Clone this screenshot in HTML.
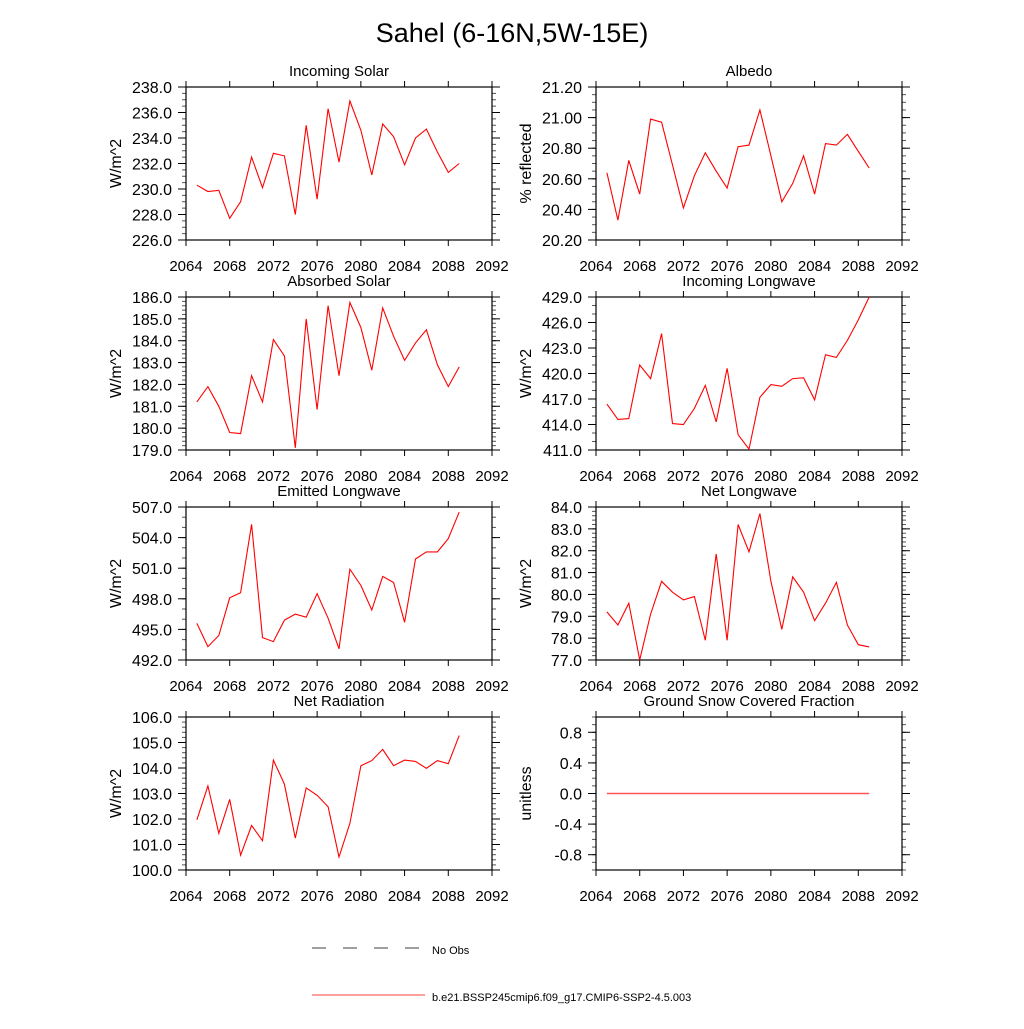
<!DOCTYPE html>
<html><head><meta charset="utf-8"><style>
body{margin:0;background:#fff;}
svg{font-family:"Liberation Sans",sans-serif;}
</style></head><body>
<svg id="c" width="1024" height="1024" xmlns="http://www.w3.org/2000/svg">
<text x="512" y="42" text-anchor="middle" font-size="27">Sahel (6-16N,5W-15E)</text>
<g>
<line x1="312" y1="948" x2="425" y2="948" stroke="#000" stroke-width="0.8" stroke-dasharray="14,17"/>
<text x="432" y="954" font-size="11">No Obs</text>
<line x1="312" y1="995" x2="425" y2="995" stroke="#f00" stroke-width="0.8"/>
<text x="432" y="1001" font-size="11">b.e21.BSSP245cmip6.f09_g17.CMIP6-SSP2-4.5.003</text>
</g>
</svg>
<script>
const years=[2065,2066,2067,2068,2069,2070,2071,2072,2073,2074,2075,2076,2077,2078,2079,2080,2081,2082,2083,2084,2085,2086,2087,2088,2089];
const xTicks=[2064,2068,2072,2076,2080,2084,2088,2092];
const incomingSolar=[230.3,229.8,229.9,227.7,229.0,232.5,230.1,232.8,232.6,228.0,235.0,229.2,236.3,232.1,236.9,234.6,231.1,235.1,234.1,231.9,234.0,234.7,232.9,231.3,232.0];
const albedo=[20.64,20.33,20.72,20.50,20.99,20.97,20.69,20.41,20.62,20.77,20.65,20.54,20.81,20.82,21.05,20.75,20.45,20.57,20.75,20.50,20.83,20.82,20.89,20.78,20.67];
const absorbedSolar=[181.2,181.9,181.0,179.8,179.75,182.4,181.2,184.05,183.3,179.1,185.0,180.85,185.6,182.4,185.75,184.6,182.65,185.5,184.2,183.1,183.9,184.5,182.9,181.9,182.8];
const incomingLongwave=[416.4,414.6,414.7,421.0,419.4,424.7,414.1,414.0,415.9,418.6,414.3,420.6,412.8,411.1,417.2,418.7,418.5,419.4,419.5,416.9,422.2,421.9,423.9,426.3,429.0];
const emittedLongwave=[495.6,493.3,494.4,498.1,498.6,505.3,494.2,493.8,495.9,496.5,496.2,498.5,496.1,493.1,500.9,499.3,496.9,500.2,499.6,495.7,501.9,502.6,502.6,503.9,506.5];
const netLongwave=[79.2,78.6,79.6,77.0,79.1,80.6,80.1,79.75,79.9,77.9,81.85,77.9,83.2,81.95,83.7,80.6,78.4,80.8,80.1,78.8,79.6,80.55,78.6,77.7,77.6];
const netRadiation=[101.97,103.3,101.44,102.77,100.58,101.75,101.15,104.31,103.37,101.25,103.22,102.93,102.48,100.51,101.83,104.09,104.29,104.73,104.09,104.31,104.26,103.99,104.29,104.17,105.27];
const snowFraction=[0,0,0,0,0,0,0,0,0,0,0,0,0,0,0,0,0,0,0,0,0,0,0,0,0];
const ticksIS=[226,228,230,232,234,236,238];
const ticksAL=[20.2,20.4,20.6,20.8,21.0,21.2];
const ticksAS=[179,180,181,182,183,184,185,186];
const ticksIL=[411,414,417,420,423,426,429];
const ticksEL=[492,495,498,501,504,507];
const ticksNL=[77,78,79,80,81,82,83,84];
const ticksNR=[100,101,102,103,104,105,106];
const ticksSN=[-0.8,-0.4,0,0.4,0.8];

const panels=[
 {name:'incoming-solar',title:'Incoming Solar',yl:'W/m^2',d:incomingSolar,t:ticksIS,min:226,max:238,dec:1,col:0,row:0,minor:4},
 {name:'albedo',title:'Albedo',yl:'% reflected',d:albedo,t:ticksAL,min:20.2,max:21.2,dec:2,col:1,row:0,minor:4},
 {name:'absorbed-solar',title:'Absorbed Solar',yl:'W/m^2',d:absorbedSolar,t:ticksAS,min:179,max:186,dec:1,col:0,row:1,minor:5},
 {name:'incoming-longwave',title:'Incoming Longwave',yl:'W/m^2',d:incomingLongwave,t:ticksIL,min:411,max:429,dec:1,col:1,row:1,minor:3},
 {name:'emitted-longwave',title:'Emitted Longwave',yl:'W/m^2',d:emittedLongwave,t:ticksEL,min:492,max:507,dec:1,col:0,row:2,minor:3},
 {name:'net-longwave',title:'Net Longwave',yl:'W/m^2',d:netLongwave,t:ticksNL,min:77,max:84,dec:1,col:1,row:2,minor:5},
 {name:'net-radiation',title:'Net Radiation',yl:'W/m^2',d:netRadiation,t:ticksNR,min:100,max:106,dec:1,col:0,row:3,minor:5},
 {name:'snow-fraction',title:'Ground Snow Covered Fraction',yl:'unitless',d:snowFraction,t:ticksSN,min:-1,max:1,dec:1,col:1,row:3,minor:4}
];
const svg=document.getElementById('c');
const NS='http://www.w3.org/2000/svg';
function mk(tag,attrs,parent){const e=document.createElementNS(NS,tag);for(const k in attrs)e.setAttribute(k,attrs[k]);parent.appendChild(e);return e;}
panels.forEach(p=>{
 const L=p.col?596:186, R=L+306, T=87+p.row*210, B=T+153;
 const g=mk('g',{},svg);
 
 
 const xs=v=>L+(v-2064)/(2092-2064)*(R-L);
 const ys=v=>B-(v-p.min)/(p.max-p.min)*(B-T);
 const ttl=mk('text',{x:(L+R)/2,y:T-11,'text-anchor':'middle','font-size':15},g);
 ttl.textContent=p.title;
 
 
 const yl=mk('text',{x:0,y:0,'text-anchor':'middle','font-size':16,transform:`translate(${L-65},${(T+B)/2}) rotate(-90)`},g);
 yl.textContent=p.yl;
 
 
 xTicks.forEach(v=>{
  const x=xs(v);
  mk('line',{x1:x,y1:B,x2:x,y2:B+6,stroke:'#000','stroke-width':1},g);
  mk('line',{x1:x,y1:T,x2:x,y2:T-6,stroke:'#000','stroke-width':1},g);
  const tx=mk('text',{x:x,y:B+31,'text-anchor':'middle','font-size':15},g);
  tx.textContent=v;
  
  
 });
 const step=p.t[1]-p.t[0];
 const first=p.t[0]-step, last=p.t[p.t.length-1]+step;
 for(let v=first; v<=last+1e-9; v+=step/p.minor){
  if(v<p.min-1e-9||v>p.max+1e-9) continue;
  const y=ys(v);
  mk('line',{x1:L,y1:y,x2:L-4,y2:y,stroke:'#555','stroke-width':1},g);
  mk('line',{x1:R,y1:y,x2:R+4,y2:y,stroke:'#555','stroke-width':1},g);
 }
 p.t.forEach(v=>{
  const y=ys(v);
  mk('line',{x1:L,y1:y,x2:L-8,y2:y,stroke:'#000','stroke-width':1},g);
  mk('line',{x1:R,y1:y,x2:R+8,y2:y,stroke:'#000','stroke-width':1},g);
  const tx=mk('text',{x:L-14,y:y+6,'text-anchor':'end','font-size':16},g);
  tx.textContent=v.toFixed(p.dec);
  
  
 });
 const fr=mk('rect',{x:L,y:T,width:R-L,height:B-T,fill:'none',stroke:'#000','stroke-width':1.2},g);
 
 
 const pts=p.d.map((v,i)=>xs(years[i]).toFixed(1)+','+ys(v).toFixed(1)).join(' ');
 const flat=p.name==='snow-fraction';
 const ln=mk('polyline',{points:pts,fill:'none',stroke:flat?'#f55':'#f00','stroke-width':flat?1.5:1.1},g);
 
 
});
</script>
</body></html>
